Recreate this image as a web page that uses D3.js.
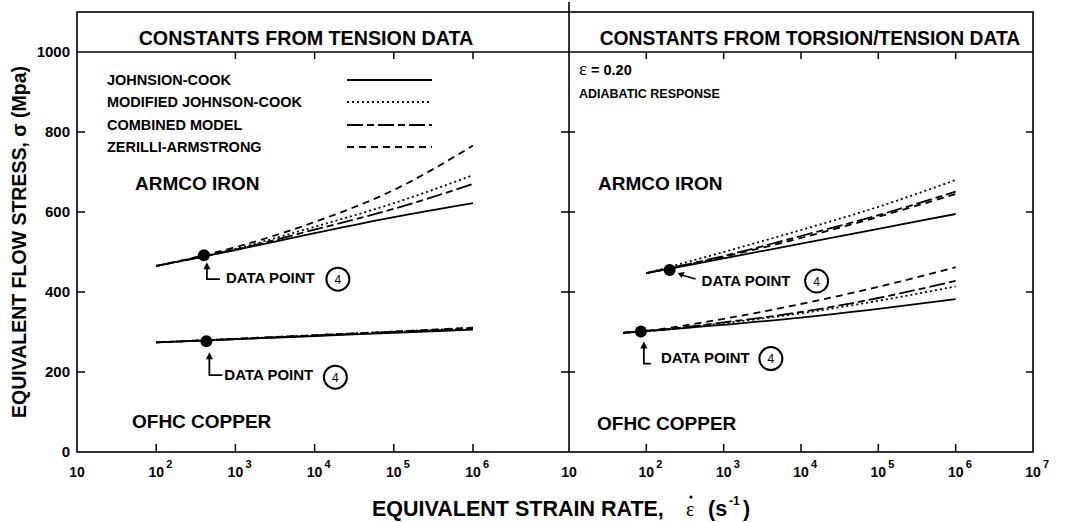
<!DOCTYPE html>
<html>
<head>
<meta charset="utf-8">
<script src="https://cdn.jsdelivr.net/npm/d3@7"></script>
<style>
  body { margin: 0; background: #fff; }
  svg text { font-family: 'Liberation Sans', Arial, Helvetica, sans-serif; font-weight: bold; fill: #000; }
</style>
</head>
<body>
<script>
    // model names, in legend order (typo kept as in the figure)
    var models = ["JOHNSION-COOK", "MODIFIED JOHNSON-COOK", "COMBINED MODEL", "ZERILLI-ARMSTRONG"];
    var dashes = [null, "2,3", "16,4,7,4", "7,5"];

    // left panel: constants from tension data
    var tensionRates = [1e2, 1e3, 1e4, 1e5, 1e6];
    var tensionIron = [
        [465, 505, 547, 587, 622],   // johnson-cook
        [465, 508, 563, 622, 692],   // modified j-c
        [465, 506, 556, 608, 670],   // combined
        [465, 512, 575, 655, 766]    // zerilli-armstrong
    ];
    var tensionCopper = [
        [274, 282, 290, 298, 306],
        [274, 283, 292, 301, 310],
        [274, 282, 291, 300, 308],
        [274, 283, 292, 301, 311]
    ];

    // right panel: constants from torsion/tension data
    var torsionIronRates = [1e2, 1e3, 1e4, 1e5, 1e6];
    var torsionIron = [
        [447, 484, 521, 558, 595],
        [447, 500, 555, 613, 680],
        [447, 490, 540, 592, 651],
        [447, 488, 535, 588, 645]
    ];
    var torsionCopperRates = [50, 1e2, 1e3, 1e4, 1e5, 1e6];
    var torsionCopper = [
        [298, 302, 318, 336, 358, 382],
        [298, 302, 322, 347, 378, 414],
        [298, 302, 324, 350, 385, 428],
        [298, 303, 333, 370, 413, 462]
    ];

    // measured data point (4) for each curve set: [rate, stress]
    var pointTensionIron = [400, 492];
    var pointTensionCopper = [430, 277];
    var pointTorsionIron = [200, 455];
    var pointTorsionCopper = [85, 301];

    var yTicks = [0, 200, 400, 600, 800, 1000];
    var leftDecades = [1e1, 1e2, 1e3, 1e4, 1e5, 1e6];
    var rightDecades = [1e1, 1e2, 1e3, 1e4, 1e5, 1e6, 1e7];

    var W = 1077, H = 522;
    var frameTop = 12, headY = 52, baseY = 452;
    var xL0 = 77, xMid = 569, xR1 = 1033;

    var svg = d3.select("body").append("svg").attr("width", W).attr("height", H);

    var y = d3.scaleLinear().domain([0, 1000]).range([baseY, headY]);
    var xLeft = d3.scaleLog().domain([10, Math.pow(10, 1 + (xMid - xL0) / 79.2)]).range([xL0, xMid]);
    var xRight = d3.scaleLog().domain([10, 1e7]).range([xMid, xR1]);

    // frames
    var frame = svg.append("g").attr("fill", "none").attr("stroke", "#000").attr("stroke-width", 1.6);
    frame.append("rect").attr("x", xL0).attr("y", frameTop).attr("width", xR1 - xL0).attr("height", baseY - frameTop);
    frame.append("line").attr("x1", xL0).attr("x2", xR1).attr("y1", headY).attr("y2", headY);
    frame.append("line").attr("x1", xMid).attr("x2", xMid).attr("y1", 2).attr("y2", baseY);

    // headers
    svg.append("text").attr("x", 306).attr("y", 45).attr("text-anchor", "middle")
        .style("font-size", "19.7px").text("CONSTANTS FROM TENSION DATA");
    svg.append("text").attr("x", 810).attr("y", 45).attr("text-anchor", "middle")
        .style("font-size", "19.3px").text("CONSTANTS FROM TORSION/TENSION DATA");

    // y ticks + labels
    var ticks = svg.append("g").attr("stroke", "#000").attr("stroke-width", 1.5);
    yTicks.filter(function(v) { return v > 0 && v < 1000; }).forEach(function(v) {
        ticks.append("line").attr("x1", xL0).attr("x2", xL0 + 8).attr("y1", y(v)).attr("y2", y(v));
        ticks.append("line").attr("x1", xMid - 8).attr("x2", xMid + 6).attr("y1", y(v)).attr("y2", y(v));
        ticks.append("line").attr("x1", xR1 - 7).attr("x2", xR1).attr("y1", y(v)).attr("y2", y(v));
    });
    svg.append("g").selectAll("text").data(yTicks).enter().append("text")
        .attr("x", 70).attr("y", function(d) { return y(d) + 5; })
        .attr("text-anchor", "end").style("font-size", "15px")
        .text(function(d) { return d; });

    // x ticks
    leftDecades.slice(1).forEach(function(r) {
        ticks.append("line").attr("x1", xLeft(r)).attr("x2", xLeft(r)).attr("y1", baseY).attr("y2", baseY - 8);
        if (r >= 1e3) ticks.append("line").attr("x1", xLeft(r)).attr("x2", xLeft(r)).attr("y1", headY).attr("y2", headY + 7);
    });
    rightDecades.slice(1, 6).forEach(function(r) {
        ticks.append("line").attr("x1", xRight(r)).attr("x2", xRight(r)).attr("y1", baseY).attr("y2", baseY - 8);
        ticks.append("line").attr("x1", xRight(r)).attr("x2", xRight(r)).attr("y1", headY).attr("y2", headY + 7);
    });

    function decadeLabels(scale, decades) {
        var g = svg.append("g");
        decades.forEach(function(r) {
            var px = scale(r), p = Math.round(Math.log10(r));
            g.append("text").attr("x", px).attr("y", 477).attr("text-anchor", "middle")
                .style("font-size", "14px").text("10");
            if (p > 1) {
                g.append("text").attr("x", px + 10).attr("y", 468)
                    .style("font-size", "11px").text(p);
            }
        });
    }
    decadeLabels(xLeft, leftDecades);
    decadeLabels(xRight, rightDecades);

    // axis titles
    svg.append("text").attr("transform", "translate(26,242) rotate(-90)")
        .attr("text-anchor", "middle").style("font-size", "19.5px")
        .text("EQUIVALENT FLOW STRESS, σ (Mpa)");

    svg.append("text").attr("x", 372).attr("y", 516).style("font-size", "21.5px")
        .text("EQUIVALENT STRAIN RATE,");
    svg.append("text").attr("x", 686).attr("y", 516)
        .style("font-family", "'Liberation Serif', serif").style("font-weight", "normal")
        .style("font-size", "20px").text("ε");
    svg.append("circle").attr("cx", 691).attr("cy", 497).attr("r", 1.6).attr("fill", "#000");
    svg.append("text").attr("x", 708).attr("y", 516).style("font-size", "21.5px").text("(s");
    svg.append("text").attr("x", 729).attr("y", 505).style("font-size", "12px").text("-1");
    svg.append("text").attr("x", 743).attr("y", 516).style("font-size", "21.5px").text(")");

    // curves
    function drawSet(scale, rates, series) {
        series.forEach(function(vals, i) {
            var pts = rates.map(function(r, j) { return { rate: r, v: vals[j] }; });
            var line = d3.line()
                .x(function(d) { return scale(d.rate); })
                .y(function(d) { return y(d.v); })
                .curve(d3.curveMonotoneX);
            svg.append("path").datum(pts)
                .attr("d", line)
                .attr("fill", "none")
                .attr("stroke", "#000")
                .attr("stroke-width", 1.8)
                .attr("stroke-dasharray", dashes[i]);
        });
    }
    drawSet(xLeft, tensionRates, tensionIron);
    drawSet(xLeft, tensionRates, tensionCopper);
    drawSet(xRight, torsionIronRates, torsionIron);
    drawSet(xRight, torsionCopperRates, torsionCopper);

    // data point marker with its "DATA POINT (4)" note
    function dataPoint(scale, pt, kind, o) {
        var px = scale(pt[0]), py = y(pt[1]);
        svg.append("circle").attr("cx", px).attr("cy", py).attr("r", 6).attr("fill", "#000");
        var g = svg.append("g");
        if (kind === "elbow") {
            var tipY = py + o.tip, tx = px + 3;
            g.append("path").attr("d", "M" + tx + "," + tipY + " l-3.5,7 l7,0 z").attr("fill", "#000");
            g.append("path").attr("d", "M" + tx + "," + (tipY + 5) + " V" + (py + o.drop) + " H" + (px + o.run))
                .attr("fill", "none").attr("stroke", "#000").attr("stroke-width", 1.8);
        } else {
            var ax = px + 8, ay = py + 3;
            g.append("path").attr("d", "M" + ax + "," + ay + " l7,-1 l-3,6 z").attr("fill", "#000");
            g.append("line").attr("x1", ax + 4).attr("y1", ay + 2).attr("x2", px + 26).attr("y2", py + 9)
                .attr("stroke", "#000").attr("stroke-width", 1.8);
        }
        g.append("text").attr("x", px + o.tx).attr("y", py + o.ty).style("font-size", "15px").text("DATA POINT");
        g.append("circle").attr("cx", px + o.cx).attr("cy", py + o.cy).attr("r", 11.5)
            .attr("fill", "none").attr("stroke", "#000").attr("stroke-width", 2);
        g.append("text").attr("x", px + o.cx).attr("y", py + o.cy + 4.5).attr("text-anchor", "middle")
            .style("font-size", "12px").style("font-weight", "normal").text("4");
    }
    dataPoint(xLeft, pointTensionIron, "elbow", { tip: 7, drop: 24, run: 16, tx: 22, ty: 28, cx: 134, cy: 24 });
    dataPoint(xLeft, pointTensionCopper, "elbow", { tip: 11, drop: 34, run: 16, tx: 18, ty: 39, cx: 129, cy: 36 });
    dataPoint(xRight, pointTorsionIron, "slant", { tx: 32, ty: 16, cx: 147, cy: 11 });
    dataPoint(xRight, pointTorsionCopper, "elbow", { tip: 10, drop: 32, run: 10, tx: 20, ty: 31, cx: 130, cy: 27 });

    // legend
    var leg = svg.append("g");
    models.forEach(function(m, i) {
        var ly = [80, 102, 125, 147][i];
        leg.append("text").attr("x", 107).attr("y", ly + 5).style("font-size", "14.5px").text(m);
        leg.append("line").attr("x1", 347).attr("x2", 432).attr("y1", ly).attr("y2", ly)
            .attr("stroke", "#000").attr("stroke-width", 1.8).attr("stroke-dasharray", dashes[i]);
    });

    // material labels
    [[135, 190, "ARMCO IRON"], [132, 428, "OFHC COPPER"], [598, 190, "ARMCO IRON"], [597, 430, "OFHC COPPER"]]
        .forEach(function(t) {
            svg.append("text").attr("x", t[0]).attr("y", t[1]).style("font-size", "19px").text(t[2]);
        });

    // right panel notes
    svg.append("text").attr("x", 579).attr("y", 75)
        .style("font-family", "'Liberation Serif', serif").style("font-weight", "normal")
        .style("font-size", "19px").text("ε");
    svg.append("text").attr("x", 591).attr("y", 75).style("font-size", "14.5px").text("= 0.20");
    svg.append("text").attr("x", 579).attr("y", 98).style("font-size", "12.5px").text("ADIABATIC RESPONSE");
</script>
</body>
</html>
